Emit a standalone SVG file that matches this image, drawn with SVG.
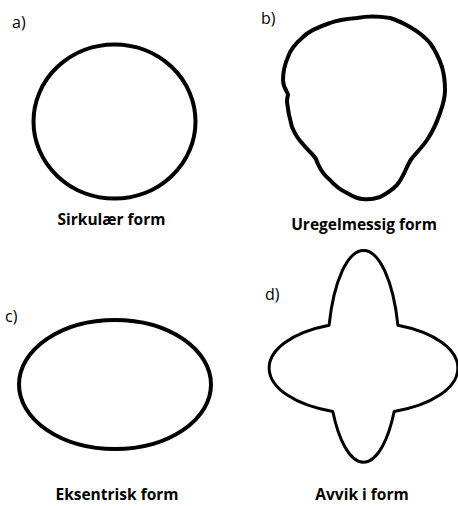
<svg xmlns="http://www.w3.org/2000/svg" width="458" height="506" viewBox="0 0 458 506">
<style>
.shape{fill:none;stroke:#000;stroke-linejoin:round}
.lbl{font-family:"Open Sans","Liberation Sans",Arial,sans-serif;font-size:16px;fill:#000}
.cap{font-family:"Open Sans","Liberation Sans",Arial,sans-serif;font-size:15.5px;font-weight:bold;fill:#000;text-anchor:middle}
</style>
<rect width="458" height="506" fill="#fff"/>
<g id="a">
<text class="lbl" x="12" y="28">a)</text>
<ellipse class="shape" cx="114.5" cy="121.5" rx="81" ry="77" stroke-width="4"/>
<text class="cap" x="111.5" y="225">Sirkulær form</text>
</g>
<g id="b">
<text class="lbl" x="261" y="24">b)</text>
<path class="shape" stroke-width="4" d="M357,18 C345,19 335,21 330,23 C318,27 308,32 303,37 C295,44 290,50 288,57 C284,66 283,73 283,80 C283,88 288,92 288,95 C287,98 287,99 287,102 C288,112 290,120 292,127 C295,134 298,139 302,143 C306,148 310,152 313,155 C316,158 317,161 318,164 C321,171 325,176 330,180 C335,186 341,190 347,193 C352,196 357,199 363,199 C369,200 374,199 380,197 C386,194 392,190 397,185 C401,180 404,174 407,167 C409,163 410,160 413,157 C418,151 423,146 427,140 C433,131 437,122 440,113 C443,105 445,98 445,90 C445,82 444,74 442,67 C439,58 435,50 430,43 C424,36 417,31 410,27 C403,23 397,20 390,18 C378,16 367,16 357,18 Z"/>
<text class="cap" x="364" y="230">Uregelmessig form</text>
</g>
<g id="c">
<text class="lbl" x="5" y="322">c)</text>
<ellipse class="shape" cx="115" cy="384.5" rx="96" ry="64.5" stroke-width="4"/>
<text class="cap" x="117" y="500">Eksentrisk form</text>
</g>
<g id="d">
<text class="lbl" x="265" y="300">d)</text>
<path class="shape" stroke-width="3" d="M329.1,325.2 A36,106 0 0 1 397.9,325.2 A94.5,46 0 0 1 394.2,411.5 A36,106 0 0 1 332.8,411.5 A94.5,46 0 0 1 329.1,325.2 Z"/>
<text class="cap" x="362" y="500">Avvik i form</text>
</g>
<g id="connectors"/>
</svg>
